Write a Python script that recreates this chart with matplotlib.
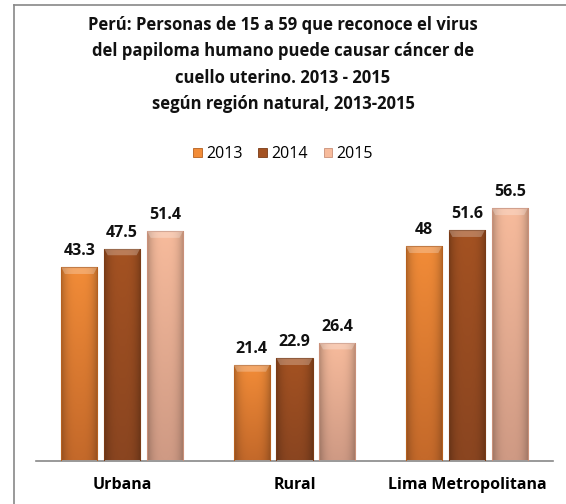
import matplotlib.pyplot as plt
import numpy as np
from matplotlib.colors import LinearSegmentedColormap
from matplotlib.patches import Rectangle, Polygon
from matplotlib.lines import Line2D

plt.rcParams['font.family'] = ['Open Sans', 'DejaVu Sans']

regiones = ['Urbana', 'Rural', 'Lima Metropolitana']
anios = ['2013', '2014', '2015']
v2013 = [43.3, 21.4, 48]
v2014 = [47.5, 22.9, 51.6]
v2015 = [51.4, 26.4, 56.5]
series = [v2013, v2014, v2015]

# colores (claro arriba -> oscuro abajo)
colores = [('#f28c38', '#c4692a'), ('#a45222', '#8a4520'), ('#f7bb9c', '#cf9a84')]
bordes = ['#b5601f', '#7a3b16', '#c99079']

fig = plt.figure(figsize=(5.66, 5.04), dpi=100)
W, H = 566, 504
ax = fig.add_axes([36 / W, (H - 460.5) / H, (553 - 36) / W, (460.5 - 195) / H])

x = np.arange(len(regiones))
ancho = 0.209
paso = 0.249

for i, vals in enumerate(series):
    pos = x + (i - 1) * paso
    cmap = LinearSegmentedColormap.from_list('g%d' % i, [colores[i][1], colores[i][0]])
    for xp, v in zip(pos, vals):
        bar = Rectangle((xp - ancho / 2, 0), ancho, v, facecolor='none',
                        edgecolor=bordes[i], linewidth=0.8, zorder=3)
        ax.add_patch(bar)
        grad = np.linspace(0, 1, 100).reshape(-1, 1)
        # sombreado horizontal (bordes mas oscuros)
        horiz = 1 - 0.25 * np.abs(np.linspace(-1, 1, 40)) ** 3
        img = cmap(grad)[:, :, :3] * np.ones((1, 40, 1))
        img = img * horiz.reshape(1, -1, 1)
        im = ax.imshow(img, extent=(xp - ancho / 2, xp + ancho / 2, 0, v),
                       origin='lower', aspect='auto', zorder=2)
        im.set_clip_path(bar)
        # bisel superior claro
        b = ancho / 2
        ax.add_patch(Polygon([(xp - b, v), (xp + b, v), (xp + b * 0.8, v - 1.5),
                              (xp - b * 0.8, v - 1.5)], closed=True,
                             facecolor='white', alpha=0.25, linewidth=0, zorder=3))
        ax.text(xp, v + 1.8, f'{v:g}', ha='center', va='bottom',
                fontsize=11.5, fontweight='bold', color='#111111', zorder=4)

ax.set_xlim(-0.5, 2.5)
ax.set_ylim(0, 59.5)
ax.set_yticks([])
ax.set_xticks(x)
ax.set_xticklabels(regiones, fontsize=11.5, fontweight='bold')
ax.tick_params(axis='x', length=0, pad=12)
for s in ['top', 'right', 'left']:
    ax.spines[s].set_visible(False)
ax.spines['bottom'].set_color('#888888')
ax.spines['bottom'].set_linewidth(1.2)

fig.text(0.5, 1 - 16 / H,
         'Perú: Personas de 15 a 59 que reconoce el virus\n'
         'del papiloma humano puede causar cáncer de\n'
         'cuello uterino. 2013 - 2015\n'
         'según región natural, 2013-2015',
         ha='center', va='top', fontsize=12, fontweight='bold',
         linespacing=1.6, color='#111111')

handles = [Rectangle((0, 0), 1, 1, facecolor=colores[i][0], edgecolor=bordes[i], linewidth=0.6)
           for i in range(3)]
fig.legend(handles, anios, loc='center', bbox_to_anchor=(0.5, 1 - 154 / H),
           ncol=3, frameon=False, fontsize=11.5, handlelength=0.55, handleheight=0.55,
           handletextpad=0.25, columnspacing=1.0)

# marco del grafico
fig.add_artist(Line2D([14 / W, 14 / W], [0, 1 - 5 / H], color='#888888', linewidth=1.2))
fig.add_artist(Line2D([14 / W, 1], [1 - 5 / H, 1 - 5 / H], color='#888888', linewidth=1.2))

fig.savefig('out.png', dpi=100)
